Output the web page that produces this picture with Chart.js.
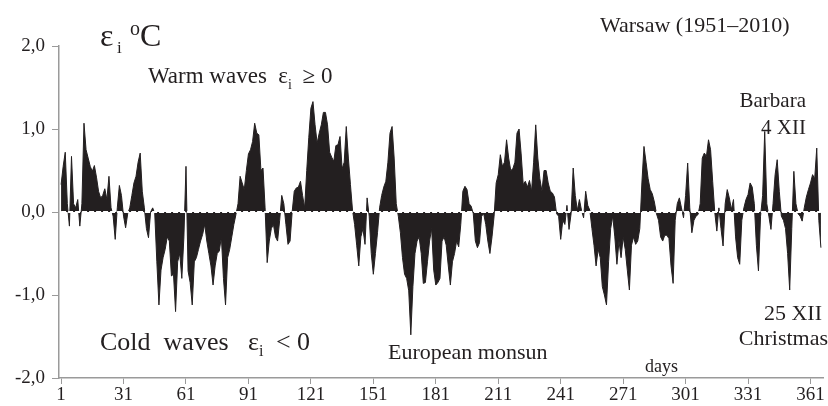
<!DOCTYPE html>
<html>
<head>
<meta charset="utf-8">
<script src="https://cdn.jsdelivr.net/npm/chart.js@4"></script>
<style>
  html, body { margin: 0; padding: 0; background: #fff; }
  #wrap { width: 828px; height: 406px; position: relative; }
</style>
</head>
<body>
<div id="wrap"><canvas id="waves-chart"></canvas></div>
<script>
// daily mean deviation eps_i (degC), days 1..366
const epsValues = [
  0.33, 0.55, 0.72, 0.1, -0.17, 0.67, 0.1, 0.05, 0.15, -0.17,
  0.1, 1.07, 0.75, 0.65, 0.55, 0.49, 0.56, 0.42, 0.25, 0.17,
  0.2, 0.28, 0.15, 0.43, 0.05, -0.05, -0.33, 0.05, 0.32, 0.2,
  -0.05, -0.19, -0.02, 0.05, 0.2, 0.35, 0.43, 0.6, 0.71, 0.25,
  0.05, -0.2, -0.31, 0.0, 0.05, -0.02, -0.6, -1.12, -0.7, -0.55,
  -0.45, -0.3, -0.35, -0.77, -0.75, -1.2, -0.6, -0.5, -0.8, -0.3,
  0.55, -0.71, -0.85, -1.12, -0.6, -0.55, -0.45, -0.35, -0.27, -0.15,
  -0.35, -0.5, -0.65, -0.88, -0.65, -0.5, -0.47, -0.3, -0.8,
  -1.12, -0.55, -0.45, -0.3, -0.15, -0.03, 0.1, 0.43, 0.35, 0.27,
  0.5, 0.7, 0.75, 0.85, 1.07, 0.95, 0.93, 0.5, 0.53, 0.05,
  -0.61, -0.35, -0.2, -0.15, -0.3, -0.35, -0.1, 0.2, 0.1, -0.15,
  -0.39, -0.35, 0.0, 0.25, 0.29, 0.3, 0.37, 0.2, 0.05, 0.5,
  0.9, 1.25, 1.33, 1.05, 0.83, 0.95, 1.05, 1.2, 1.2, 1.05,
  0.72, 0.66, 0.61, 0.8, 0.81, 0.91, 0.52, 0.6, 1.03,
  0.65, 0.33, 0.02, -0.15, -0.4, -0.65, -0.3, -0.2, -0.39, 0.17,
  -0.05, -0.5, -0.75, -0.5, -0.25, 0.05, 0.2, 0.3, 0.37, 0.6,
  0.95, 1.03, 0.65, 0.1, -0.05, -0.25, -0.55, -0.75, -0.8, -0.95,
  -1.48, -0.9, -0.5, -0.35, -0.3, -0.5, -0.86, -0.85, -0.6, -0.35,
  -0.2, -0.7, -0.88, -0.85, -0.8, -0.35, -0.3, -0.4, -0.65, -0.88,
  -0.6, -0.5, -0.35, -0.42, -0.15, 0.25, 0.31, 0.27, 0.1, 0.07,
  -0.02, -0.35, -0.43, -0.37, -0.05, -0.02, -0.15, -0.35, -0.5,
  -0.3, -0.05, 0.35, 0.45, 0.69, 0.55, 0.6, 0.87, 0.65, 0.5,
  0.52, 0.6, 0.95, 1.0, 0.7, 0.33, 0.37, 0.3, 0.38, 0.25,
  0.6, 1.05, 0.65, 0.4, 0.25, 0.5, 0.5, 0.35, 0.25, 0.23,
  0.18, -0.02, -0.05, -0.33, -0.1, -0.15, 0.08, -0.21, -0.02, 0.53,
  0.2, 0.02, 0.15, 0.02, -0.07, 0.25, 0.08, 0.02, -0.2, -0.4,
  -0.65, -0.45, -0.55, -0.9, -1.0, -1.12, -0.6, -0.2, -0.05, -0.3,
  -0.63, -0.35, -0.55, -0.3, -0.45, -0.7, -0.94, -0.4, -0.3,
  -0.39, -0.35, -0.2, 0.35, 0.79, 0.6, 0.4, 0.27, 0.22, 0.12,
  -0.02, -0.1, -0.3, -0.35, -0.28, -0.28, -0.32, -0.65, -0.86, -0.1,
  0.1, 0.17, 0.05, -0.07, 0.2, 0.59, 0.05, -0.25, -0.1, -0.05,
  -0.03, 0.1, 0.65, 0.71, 0.67, 0.87, 0.75, 0.37, 0.0, -0.23,
  0.05, -0.2, -0.41, 0.1, 0.27, 0.17, 0.03, 0.15, -0.3, -0.55,
  -0.63, -0.1, 0.05, 0.15, 0.21, 0.35, 0.3, 0.1, -0.4,
  -0.71, -0.05, 0.2, 0.97, 0.1, -0.05, -0.21, 0.1, 0.45, 0.63,
  0.25, -0.05, -0.1, -0.2, -0.5, -0.94, -0.2, 0.49, 0.1, -0.02,
  -0.05, -0.11, 0.05, 0.18, 0.27, 0.35, 0.45, 0.4, 0.77, -0.1, -0.43,
];
const dayTicks = [1, 31, 61, 91, 121, 151, 181, 211, 241, 271, 301, 331, 361];
const yTicks = [-2, -1, 0, 1, 2];

const serif = '"Liberation Serif", "DejaVu Serif", serif';
const axisColor = '#9a9a9a';
const fillColor = '#231f20';

const areaData = epsValues.map((v, i) => ({ x: i + 1, y: v }));
const zeroData = [{ x: 1, y: 0 }, { x: epsValues.length, y: 0 }];

function txt(ctx, s, x, y, size, align) {
  ctx.font = size + 'px ' + serif;
  ctx.textAlign = align || 'left';
  ctx.fillText(s, x, y);
  return ctx.measureText(s).width;
}

const annotations = {
  id: 'annotations',
  afterDraw(chart) {
    const ctx = chart.ctx;
    ctx.save();
    ctx.fillStyle = '#231f20';
    ctx.textBaseline = 'alphabetic';
    // axis title eps_i oC
    txt(ctx, 'ε', 100, 46, 32);
    txt(ctx, 'i', 117, 53, 17);
    txt(ctx, 'o', 130, 35, 20);
    txt(ctx, 'C', 140, 46, 32);
    // warm waves
    let w = txt(ctx, 'Warm waves  ε', 148, 83, 23);
    txt(ctx, 'i', 148 + w, 89, 14);
    txt(ctx, '  ≥ 0', 148 + w + 3, 83, 23);
    // cold waves
    w = txt(ctx, 'Cold  waves   ε', 100, 350, 26);
    txt(ctx, 'i', 100 + w, 356, 16);
    txt(ctx, '  < 0', 100 + w + 4, 350, 26);

    txt(ctx, 'Warsaw (1951–2010)', 600, 32, 22);
    txt(ctx, 'Barbara', 806, 107, 21, 'right');
    txt(ctx, '4 XII', 806, 134, 21, 'right');
    txt(ctx, '25 XII', 822, 320, 22, 'right');
    txt(ctx, 'Christmas', 828, 345, 22, 'right');
    txt(ctx, 'European monsun', 388, 359, 22);
    txt(ctx, 'days', 645, 372, 18);
    ctx.restore();
  },
};

const wavesConfig = {
  type: 'line',
  data: {
    datasets: [
      {
        data: zeroData,
        borderColor: '#ffffff',
        borderWidth: 2,
        borderDash: [5, 2],
        pointRadius: 0,
        fill: false,
        order: 0,
      },
      {
        data: areaData,
        borderColor: fillColor,
        borderWidth: 1,
        backgroundColor: fillColor,
        fill: 'origin',
        pointRadius: 0,
        tension: 0,
        order: 1,
      },
    ],
  },
  options: {
    responsive: true,
    maintainAspectRatio: false,
    animation: false,
    layout: {
      padding: { left: 0, right: 5, top: 46, bottom: 0 },
    },
    plugins: {
      legend: { display: false },
      tooltip: { enabled: false },
    },
    scales: {
      x: {
        type: 'linear',
        min: 0,
        max: 367,
        afterBuildTicks: (scale) => {
          scale.ticks = dayTicks.map((v) => ({ value: v }));
        },
        afterFit: (scale) => {
          scale.height = 28;
        },
        ticks: {
          color: '#231f20',
          font: { family: serif, size: 19 },
          padding: 0,
          maxRotation: 0,
          autoSkip: false,
        },
        grid: {
          drawOnChartArea: false,
          tickLength: 6,
          color: axisColor,
        },
        border: { color: axisColor, width: 1.5 },
      },
      y: {
        min: -2,
        max: 2,
        afterBuildTicks: (scale) => {
          scale.ticks = yTicks.map((v) => ({ value: v }));
        },
        afterFit: (scale) => {
          scale.width = 59;
        },
        ticks: {
          color: '#231f20',
          font: { family: serif, size: 19 },
          padding: 7,
          callback: (v) => v.toFixed(1).replace('.', ','),
        },
        grid: {
          drawOnChartArea: false,
          tickLength: 7,
          color: axisColor,
        },
        border: { color: axisColor, width: 1.5 },
      },
    },
  },
  plugins: [annotations],
};

const ctxWaves = document.getElementById('waves-chart').getContext('2d');
const wavesChart = new Chart(ctxWaves, wavesConfig);
</script>
</body>
</html>
